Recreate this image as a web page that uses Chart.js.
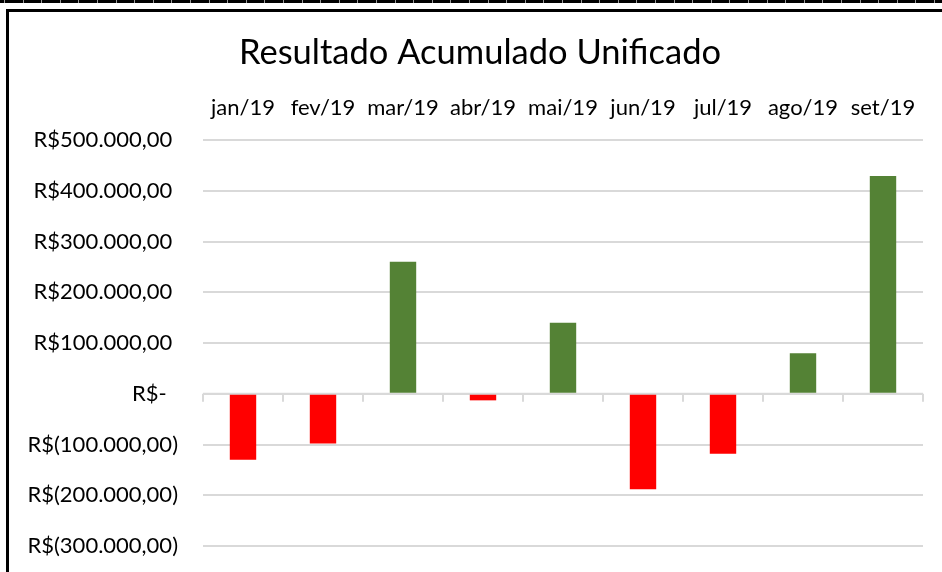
<!DOCTYPE html>
<html>
<head>
<meta charset="utf-8">
<script src="https://cdn.jsdelivr.net/npm/chart.js@4/dist/chart.umd.min.js"></script>
<style>
  html, body { margin: 0; padding: 0; background: #fff; }
  #wrap { width: 942px; height: 572px; position: relative; }
</style>
</head>
<body>
<div id="wrap"><canvas id="c" width="942" height="572"></canvas></div>
<script>
const categories = ['jan/19', 'fev/19', 'mar/19', 'abr/19', 'mai/19', 'jun/19', 'jul/19', 'ago/19', 'set/19'];
const resultado = [-130000, -98000, 260000, -13000, 140000, -188000, -118000, 80000, 429000];
const yMin = -300000;
const yMax = 500000;
const yStep = 100000;
const chartTitle = 'Resultado Acumulado Unificado';

const FONT = 'Lato, "Open Sans", "DejaVu Sans", sans-serif';

function fmtBRL(v) {
  if (v === 0) return 'R$-  ';
  const abs = Math.abs(v);
  const intPart = Math.floor(abs).toString().replace(/\B(?=(\d{3})+(?!\d))/g, '.');
  const s = intPart + ',00';
  return v < 0 ? 'R$(' + s + ')' : 'R$' + s + ' ';
}

const framePlugin = {
  id: 'frame',
  beforeDraw(chart) {
    const ctx = chart.ctx;
    ctx.save();
    ctx.fillStyle = '#ffffff';
    ctx.fillRect(0, 0, chart.width, chart.height);
    // spreadsheet strip at very top
    ctx.fillStyle = '#000000';
    ctx.fillRect(0, 0, chart.width, 3);
    ctx.fillStyle = '#9a9a9a';
    for (let x = 4; x < chart.width; x += 18.6) {
      ctx.fillRect(Math.round(x), 0, 1, 3);
    }
    // chart frame (left + top)
    ctx.fillStyle = '#000000';
    ctx.fillRect(6, 9, chart.width - 6, 3);
    ctx.fillRect(6, 9, 3, chart.height - 9);
    ctx.restore();
  },
  afterDraw(chart) {
    const ctx = chart.ctx;
    ctx.save();
    ctx.fillStyle = '#000000';
    ctx.font = '34.5px ' + FONT;
    ctx.textAlign = 'center';
    ctx.textBaseline = 'middle';
    ctx.fillText(chartTitle, 480, 53);
    ctx.restore();
  }
};

const zeroAxisPlugin = {
  id: 'zeroAxis',
  beforeDatasetsDraw(chart) {
    const ctx = chart.ctx;
    const y0 = chart.scales.y.getPixelForValue(0);
    const area = chart.chartArea;
    const n = categories.length;
    const w = (area.right - area.left) / n;
    ctx.save();
    ctx.strokeStyle = '#d9d9d9';
    ctx.lineWidth = 2;
    ctx.beginPath();
    ctx.moveTo(area.left, y0);
    ctx.lineTo(area.right, y0);
    for (let i = 0; i <= n; i++) {
      const x = area.left + i * w;
      ctx.moveTo(x, y0);
      ctx.lineTo(x, y0 + 8);
    }
    ctx.stroke();
    ctx.restore();
  }
};

new Chart(document.getElementById('c'), {
  type: 'bar',
  data: {
    labels: categories,
    datasets: [{
      label: 'Resultado',
      data: resultado,
      backgroundColor: ctx => (ctx.raw < 0 ? '#ff0000' : '#548235'),
      borderWidth: 0,
      barPercentage: 0.33,
      categoryPercentage: 1.0
    }]
  },
  options: {
    responsive: false,
    animation: false,
    devicePixelRatio: 1,
    layout: { padding: { left: 0, right: 19, top: 0, bottom: 26 } },
    plugins: {
      legend: { display: false },
      tooltip: { enabled: false },
      title: { display: false }
    },
    scales: {
      x: {
        position: 'top',
        grid: { display: false, drawTicks: false },
        border: { display: false },
        ticks: {
          color: '#000000',
          font: { family: FONT, size: 22 },
          padding: 19,
          maxRotation: 0,
          autoSkip: false
        },
        afterFit(scale) { scale.height = 140; }
      },
      y: {
        min: yMin,
        max: yMax,
        grid: { color: '#d9d9d9', lineWidth: 2, drawTicks: false },
        border: { display: false },
        ticks: {
          stepSize: yStep,
          color: '#000000',
          font: { family: FONT, size: 22 },
          padding: 25,
          callback: v => fmtBRL(v)
        },
        afterFit(scale) {
          scale.width = 203;
          scale.paddingTop = 0;
          scale.paddingBottom = 0;
        }
      }
    }
  },
  plugins: [framePlugin, zeroAxisPlugin]
});
</script>
</body>
</html>
